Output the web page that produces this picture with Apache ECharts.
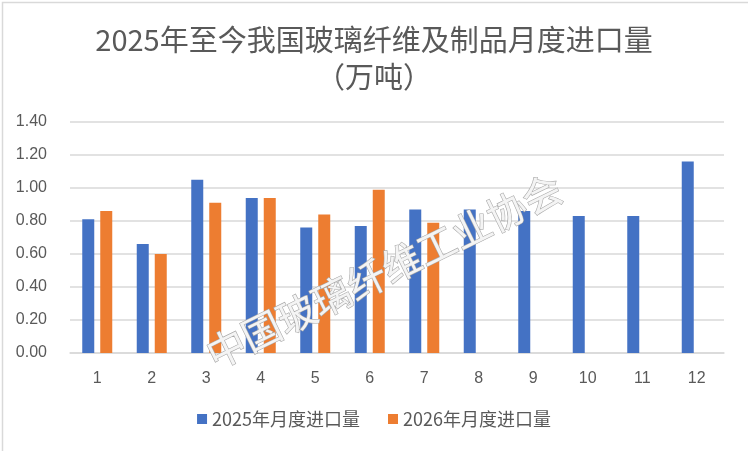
<!DOCTYPE html>
<html>
<head>
<meta charset="utf-8">
<script src="https://cdn.jsdelivr.net/npm/echarts@6/dist/echarts.min.js"></script>
<style>
html,body{margin:0;padding:0;background:#fff;}
#c{width:748px;height:451px;}
</style>
</head>
<body>
<div id="c"></div>
<script>
const months = ['1','2','3','4','5','6','7','8','9','10','11','12'];
const yTicks = [0, 0.2, 0.4, 0.6, 0.8, 1.0, 1.2, 1.4];
const series2025Name = '2025年月度进口量';
const series2026Name = '2026年月度进口量';
const imports2025 = [0.81, 0.66, 1.05, 0.94, 0.76, 0.77, 0.87, 0.87, 0.86, 0.83, 0.83, 1.16];
const imports2026 = [0.86, 0.60, 0.91, 0.94, 0.84, 0.99, 0.79, null, null, null, null, null];
const titleText = '2025年至今我国玻璃纤维及制品月度进口量\n（万吨）';
const watermarkText = '中国玻璃纤维工业协会';

const FONT = '"Noto Sans CJK SC", "Liberation Sans", sans-serif';
const chart = echarts.init(document.getElementById('c'), null, {renderer: 'canvas'});
chart.setOption({
  animation: false,
  backgroundColor: '#fff',
  title: {
    text: titleText,
    left: 'center',
    top: 16,
    textStyle: {fontFamily: FONT, fontSize: 29, fontWeight: 'normal', color: '#595959', lineHeight: 37}
  },
  legend: {
    bottom: 18,
    left: 'center',
    itemWidth: 10,
    itemHeight: 10,
    itemGap: 28,
    icon: 'rect',
    textStyle: {fontFamily: FONT, fontSize: 18, color: '#595959'},
    data: [series2025Name, series2026Name]
  },
  grid: {left: 70, right: 24, top: 122, bottom: 98, containLabel: false},
  xAxis: {
    type: 'category',
    data: months,
    axisLine: {lineStyle: {color: '#d9d9d9', width: 1.5}},
    axisTick: {show: false},
    axisLabel: {fontFamily: '"Liberation Sans", sans-serif', fontSize: 16, color: '#595959', margin: 18}
  },
  yAxis: {
    type: 'value',
    min: yTicks[0],
    max: yTicks[yTicks.length - 1],
    interval: 0.2,
    axisLine: {show: false},
    axisTick: {show: false},
    splitLine: {lineStyle: {color: '#d9d9d9', width: 1.5}},
    axisLabel: {fontFamily: '"Liberation Sans", sans-serif', fontSize: 16, color: '#595959', margin: 23,
      formatter: v => v.toFixed(2)}
  },
  series: [
    {name: series2025Name, type: 'bar', data: imports2025, barWidth: 12, barGap: '50%',
     itemStyle: {color: '#4472c4'}},
    {name: series2026Name, type: 'bar', data: imports2026, barWidth: 12, barGap: '50%',
     itemStyle: {color: '#ed7d31'}}
  ],
  graphic: [
    {type: 'rect', left: 0, top: 0, z: 100, silent: true,
     shape: {x: 0.75, y: 0.75, width: 746.5, height: 449.5},
     style: {fill: 'none', stroke: '#d9d9d9', lineWidth: 1.5}},
    {type: 'text', x: 384, y: 271, rotation: 0.455, z: 100, silent: true,
     style: {text: watermarkText, fontFamily: FONT, fontSize: 39, align: 'center', verticalAlign: 'middle',
       fill: '#f4f4f4', stroke: '#a8a8a8', lineWidth: 1.2,
       shadowColor: 'rgba(0,0,0,0.25)', shadowBlur: 2, shadowOffsetX: 1, shadowOffsetY: 1}}
  ]
});
</script>
</body>
</html>
